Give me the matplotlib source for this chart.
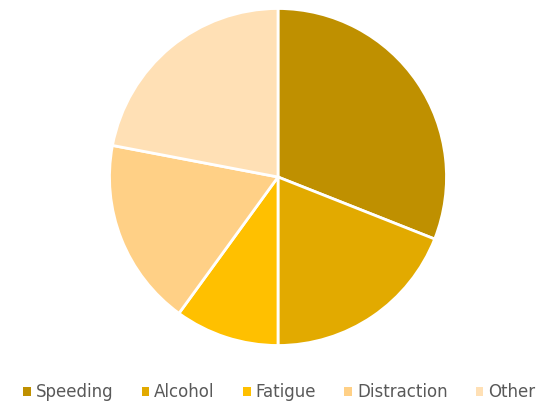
import matplotlib.pyplot as plt

labels = ["Speeding", "Alcohol", "Fatigue", "Distraction", "Other"]
values = [31, 19, 10, 18, 22]
colors = ["#BF9000", "#E2AA00", "#FFC000", "#FFD086", "#FFE0B5"]

fig = plt.figure(figsize=(5.5, 4.05), dpi=100)
# square axes around the pie: centre (278,177) px, radius ~168 px
r = 168.5
ax = fig.add_axes([(278 - r) / 550, (405 - 177 - r) / 405, 2 * r / 550, 2 * r / 405])
wedges, _ = ax.pie(values, colors=colors, startangle=90, counterclock=False,
                   wedgeprops=dict(edgecolor="white", linewidth=2))
ax.set_xlim(-1, 1)
ax.set_ylim(-1, 1)

leg = fig.legend(wedges, labels, loc="center", bbox_to_anchor=(0.508, 1 - 392 / 405),
                 ncol=5, frameon=False, fontsize=12, handlelength=0.45, handleheight=0.45,
                 handletextpad=0.3, columnspacing=1.7, labelcolor="#595959")
for h in leg.legend_handles:
    h.set_linewidth(0)

fig.savefig("out.png", dpi=100)
